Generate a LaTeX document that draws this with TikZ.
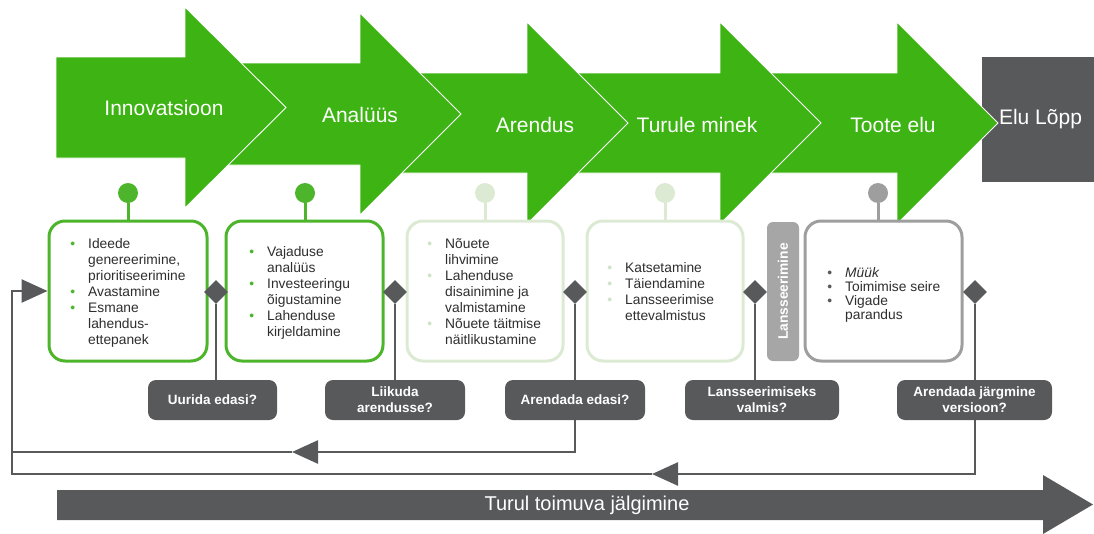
\documentclass[tikz,border=0pt]{standalone}
\usepackage{fontspec}
\setmainfont{Liberation Sans}
\usepackage{xcolor}
\usetikzlibrary{arrows.meta,positioning,shapes.geometric}
\definecolor{stagegreen}{HTML}{3DB314}
\definecolor{boxgreen}{HTML}{4DB52C}
\definecolor{palegreen}{HTML}{DCEAD4}
\definecolor{palebullet}{HTML}{CFE2C6}
\definecolor{midgray}{HTML}{9E9E9E}
\definecolor{bargray}{HTML}{A6A6A6}
\definecolor{darkgray}{HTML}{58595B}
\definecolor{ink}{HTML}{2E2E2E}
\tikzset{
  stagearrow/.style={fill=stagegreen,draw=white,line width=0.9pt,line join=miter},
  headtxt/.style={text=white,font=\fontsize{21}{24}\selectfont,inner sep=0pt},
  phasebox/.style={draw=#1,fill=white,line width=3pt,rounded corners=16pt,
                   minimum width=156pt,minimum height=140pt,inner sep=0pt},
  listtxt/.style={text=ink,font=\fontsize{13.8}{16}\selectfont,align=left,
                  anchor=west,inner sep=0pt},
  pindot/.style={circle,fill=#1,minimum size=20pt,inner sep=0pt},
  pinstem/.style={draw=#1,line width=3pt},
  gate/.style={diamond,fill=darkgray,minimum size=24pt,inner sep=0pt},
  question/.style={fill=darkgray,rounded corners=8pt,text=white,align=center,
                   font=\bfseries\fontsize{13.5}{16}\selectfont,
                   minimum height=40pt,inner sep=0pt},
  launchbar/.style={fill=bargray,rounded corners=6pt,text=white,
                    font=\bfseries\fontsize{13.8}{16}\selectfont,
                    minimum width=139pt,minimum height=32pt,inner sep=0pt},
  fb/.style={draw=darkgray,line width=2.6pt},
  fbarr/.style={fb,-{Triangle[length=26pt,width=23pt]}}
}
\newcommand\bl[1]{\llap{\textcolor{#1}{\textbullet}\hspace{13pt}}}

\begin{document}
\begin{tikzpicture}[x=1pt,y=-1pt]
  \path[use as bounding box] (0,0) rectangle (1094,533);
  % end of life
  \node[fill=darkgray,minimum width=112pt,minimum height=125pt,text=white,
        font=\fontsize{21}{24}\selectfont,inner sep=0pt] (elu) at (1038,119.5)
        {\hspace*{5pt}Elu Lõpp};
  % stage arrows, back to front
  \draw[stagearrow] (765,73) -- (897,73) -- (897,22) -- (998,123) -- (897,224)
    -- (897,173) -- (765,173) -- cycle;
  \draw[stagearrow] (575,73) -- (720,73) -- (720,22) -- (821,123) -- (720,224)
    -- (720,173) -- (575,173) -- cycle;
  \draw[stagearrow] (395,73) -- (527,73) -- (527,22) -- (628,123) -- (527,224)
    -- (527,173) -- (395,173) -- cycle;
  \draw[stagearrow] (222,63) -- (360,63) -- (360,13) -- (461,114) -- (360,215)
    -- (360,165) -- (222,165) -- cycle;
  \draw[stagearrow] (56,57) -- (185,57) -- (185,7) -- (286,107.5) -- (185,208)
    -- (185,158) -- (56,158) -- cycle;
  \node[headtxt] (h1) at (164,108) {Innovatsioon};
  \node[headtxt] (h2) at (360,115) {Analüüs};
  \node[headtxt] (h3) at (535,125) {Arendus};
  \node[headtxt] (h4) at (697,125) {Turule minek};
  \node[headtxt] (h5) at (893,125) {Toote elu};

  % phase boxes
  \node[phasebox=boxgreen,minimum width=158pt] (b1) at (128,291) {};
  \node[phasebox=boxgreen,minimum width=157pt] (b2) at (304.5,291) {};
  \node[phasebox=palegreen] (b3) at (485,291) {};
  \node[phasebox=palegreen] (b4) at (665,291) {};
  \node[phasebox=midgray,minimum width=157pt] (b5) at (883.5,291) {};
  \node[launchbar,rotate=90] (lans) at (783,291.5) {Lansseerimine};

  % pins
  \node[pindot=boxgreen] (p1) at (128,193) {};
  \node[pindot=boxgreen] (p2) at (305,193) {};
  \node[pindot=palegreen] (p3) at (485,193) {};
  \node[pindot=palegreen] (p4) at (665,193) {};
  \node[pindot=midgray] (p5) at (878,193) {};
  \draw[pinstem=boxgreen] (p1) -- (b1.north);
  \draw[pinstem=boxgreen] (p2) -- (p2 |- b2.north);
  \draw[pinstem=palegreen] (p3) -- (b3.north);
  \draw[pinstem=palegreen] (p4) -- (b4.north);
  \draw[pinstem=midgray] (p5) -- (p5 |- b5.north);

  % lists
  \node[listtxt] (l1) at (88,293) {\bl{boxgreen}Ideede\\genereerimine,\\prioritiseerimine\\
    \bl{boxgreen}Avastamine\\\bl{boxgreen}Esmane\\lahendus-\\ettepanek};
  \node[listtxt] (l2) at (267,293) {\bl{boxgreen}Vajaduse\\analüüs\\
    \bl{boxgreen}Investeeringu\\õigustamine\\\bl{boxgreen}Lahenduse\\kirjeldamine};
  \node[listtxt] (l3) at (445,292) {\bl{palebullet}Nõuete\\lihvimine\\
    \bl{palebullet}Lahenduse\\disainimine ja\\valmistamine\\
    \bl{palebullet}Nõuete täitmise\\näitlikustamine};
  \node[listtxt] (l4) at (625,292) {\bl{palebullet}Katsetamine\\
    \bl{palebullet}Täiendamine\\\bl{palebullet}Lansseerimise\\ettevalmistus};
  \node[listtxt,font=\fontsize{13.8}{14}\selectfont] (l5) at (845,295)
    {\bl{darkgray}\textit{Müük}\\\bl{darkgray}Toimimise seire\\
    \bl{darkgray}Vigade\\parandus};

  % decision points
  \node[gate] (g1) at (216,292) {};
  \node[gate] (g2) at (395,292) {};
  \node[gate] (g3) at (575,292) {};
  \node[gate] (g4) at (755,292) {};
  \node[gate] (g5) at (975,292) {};
  \node[question,minimum width=129pt] (q1) at (212.5,400) {Uurida edasi?};
  \node[question,minimum width=140pt] (q2) at (395,400) {Liikuda\\arendusse?};
  \node[question,minimum width=140pt] (q3) at (575,400) {Arendada edasi?};
  \node[question,minimum width=154pt] (q4) at (762,400) {Lansseerimiseks\\valmis?};
  \node[question,minimum width=155pt] (q5) at (974.5,400) {Arendada järgmine\\versioon?};
  \draw[fb] (g1) -- (g1 |- q1.north);
  \draw[fb] (g2) -- (q2.north);
  \draw[fb] (g3) -- (q3.north);
  \draw[fb] (g4) -- (g4 |- q4.north);
  \draw[fb] (g5) -- (g5 |- q5.north);

  % feedback loops
  \coordinate (m1) at (292,452);
  \coordinate (r1) at (10.7,452);
  \coordinate (m2) at (652,474);
  \coordinate (r2) at (12,474);
  \draw[fbarr] (q3.south) |- (m1);
  \draw[fb] (m1) -- (r1);
  \draw[fbarr] (g5 |- q5.south) |- (m2);
  \draw[fbarr] (m2) -- (r2) |- (b1.west);

  % market monitoring
  \fill[darkgray] (57,490) -- (1043,490) -- (1043,475) -- (1093,504.5) -- (1043,534)
    -- (1043,520) -- (57,520) -- cycle;
  \node[text=white,font=\fontsize{20}{24}\selectfont] (mon) at (587,505)
    {Turul toimuva jälgimine};
\end{tikzpicture}
\end{document}
